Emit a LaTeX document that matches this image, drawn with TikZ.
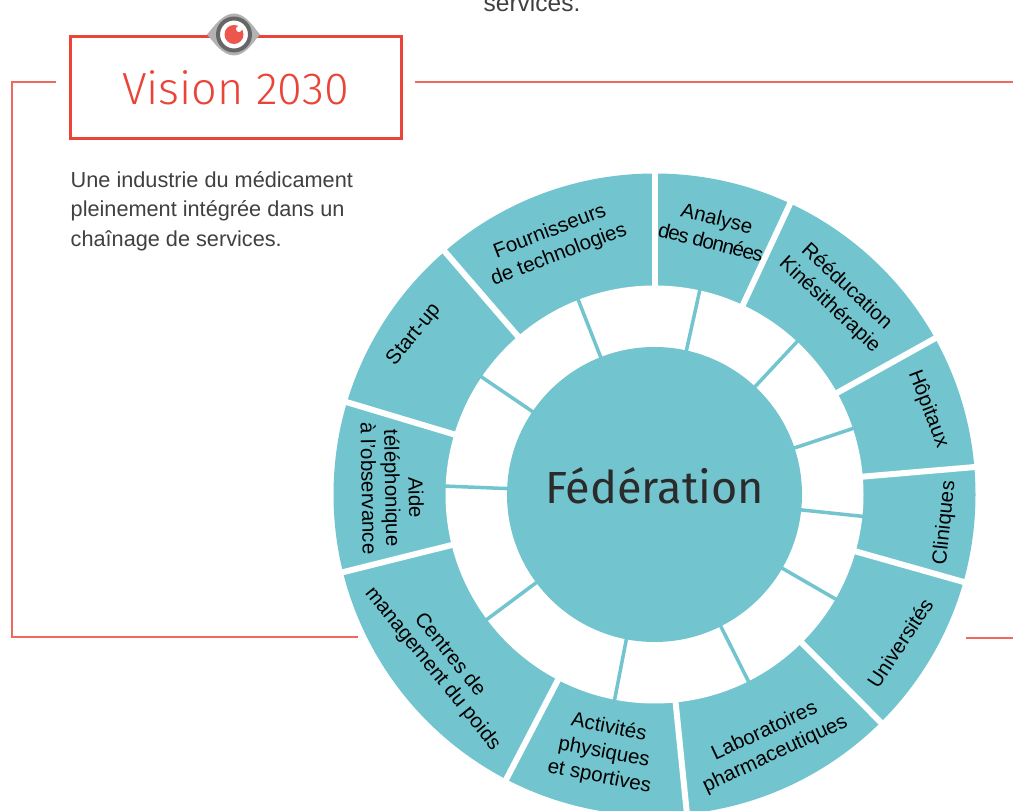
\documentclass[tikz,border=0pt]{standalone}
\usepackage{fontspec}
\usetikzlibrary{calc}
\setmainfont{Liberation Sans}
\newfontfamily\titlefont{Fira Sans Light}
\newfontfamily\hubfont{Fira Sans}
\definecolor{teal}{HTML}{72C5CE}
\definecolor{redline}{HTML}{EA4338}
\definecolor{inktext}{HTML}{2B2B2B}
\begin{document}
\begin{tikzpicture}[
	x=1pt,y=1pt,
	disc/.style={circle,inner sep=0pt,outer sep=0pt,minimum size=#1},
	gap/.style={line width=6pt,draw=white,line cap=rect},
	spoke/.style={line width=3.5pt,draw=teal,line cap=rect},
	rule/.style={line width=1.3pt,draw=redline!80!white},
	body/.style={anchor=base west,inner sep=0pt,text=inktext!90!white,font=\fontsize{21.7}{29}\selectfont},
	sector/.style={align=center,text=black,font=\fontsize{20.5}{25}\selectfont}
]
%\draw[help lines,step=100] (0,0) grid (1013,811);
	\clip (0,0) rectangle (1013,811);
	\useasboundingbox (0,0) rectangle (1013,811);

	% red rules
	\coordinate (ruleA) at (56,729);
	\coordinate (ruleB) at (12,729);
	\coordinate (ruleC) at (12,174);
	\coordinate (ruleD) at (358,174);
	\coordinate (ruleE) at (415,729);
	\coordinate (ruleF) at (1013,729);
	\coordinate (ruleG) at (966,173);
	\coordinate (ruleH) at (1013,173);
	\draw[rule] (ruleA) -- (ruleB) -- (ruleC) -- (ruleD);
	\draw[rule] (ruleE) -- (ruleF);
	\draw[rule] (ruleG) -- (ruleH);

	% title box and eye
	\node[draw=redline,line width=3pt,minimum width=331pt,minimum height=102pt,inner sep=0pt,text=redline,font=\titlefont\fontsize{45}{45}\selectfont] (vision) at (235.5,723) {Vision 2030};
	\fill[gray!60] (207,776.5) .. controls (213,783) and (222,797.5) .. (234,797.5) .. controls (246,797.5) and (254,783) .. (260,776.5) .. controls (254,770) and (246,755.5) .. (234,755.5) .. controls (222,755.5) and (213,770) .. (207,776.5) -- cycle;
	\draw[line width=4pt,draw=gray!80!black,fill=white] (234,776.5) circle [radius=16];
	\fill[redline!90!white] (234,776.5) circle [radius=9.5];
	\fill[white] (239,782) circle [radius=3];

	% texts
	\node[body,font=\fontsize{24.5}{29}\selectfont] (services) at (483.5,799) {services.};
	\node[body] (line1) at (70.5,623) {Une industrie du médicament};
	\node[body] (line2) at (70.5,594) {pleinement intégrée dans un};
	\node[body] (line3) at (70.5,564.5) {chaînage de services.};

	% wheel
	\node[disc=642pt,fill=teal] (outer) at (654.5,316.5) {};
	\node[disc=418pt,fill=white] (ring) at (654.5,316.5) {};
	\draw[gap] ($(ring)+(90:209)$) -- ($(outer)+(90:321)$);
	\draw[gap] ($(ring)+(65:209)$) -- ($(outer)+(65:321)$);
	\draw[gap] ($(ring)+(29.1:209)$) -- ($(outer)+(29.1:321)$);
	\draw[gap] ($(ring)+(4.9:209)$) -- ($(outer)+(4.9:321)$);
	\draw[gap] ($(ring)+(-15.8:209)$) -- ($(outer)+(-15.8:321)$);
	\draw[gap] ($(ring)+(-45.2:209)$) -- ($(outer)+(-45.2:321)$);
	\draw[gap] ($(ring)+(-84.2:209)$) -- ($(outer)+(-84.2:321)$);
	\draw[gap] ($(ring)+(-117.5:209)$) -- ($(outer)+(-117.5:321)$);
	\draw[gap] ($(ring)+(194:209)$) -- ($(outer)+(194:321)$);
	\draw[gap] ($(ring)+(163.3:209)$) -- ($(outer)+(163.3:321)$);
	\draw[gap] ($(ring)+(130.8:209)$) -- ($(outer)+(130.8:321)$);

	\node[disc=295pt,fill=teal] (federation) at (654.5,316.5) {};
	\node[text=inktext,font=\hubfont\fontsize{45}{45}\selectfont] (federationlabel) at (654.5,325) {Fédération};
	\draw[spoke] ($(federation)+(77.5:147)$) -- ($(ring)+(77.5:209)$);
	\draw[spoke] ($(federation)+(47:147)$) -- ($(ring)+(47:209)$);
	\draw[spoke] ($(federation)+(18.4:147)$) -- ($(ring)+(18.4:209)$);
	\draw[spoke] ($(federation)+(-6:147)$) -- ($(ring)+(-6:209)$);
	\draw[spoke] ($(federation)+(-30:147)$) -- ($(ring)+(-30:209)$);
	\draw[spoke] ($(federation)+(-63.3:147)$) -- ($(ring)+(-63.3:209)$);
	\draw[spoke] ($(federation)+(-101:147)$) -- ($(ring)+(-101:209)$);
	\draw[spoke] ($(federation)+(216.7:147)$) -- ($(ring)+(216.7:209)$);
	\draw[spoke] ($(federation)+(177.7:147)$) -- ($(ring)+(177.7:209)$);
	\draw[spoke] ($(federation)+(145.8:147)$) -- ($(ring)+(145.8:209)$);
	\draw[spoke] ($(federation)+(111.4:147)$) -- ($(ring)+(111.4:209)$);

	% sector labels
	\node[sector,rotate=21] (fournisseurs) at (554.5,567.5) {Fournisseurs\\de technologies};
	\node[sector,rotate=-14] (analyse) at (714,581) {Analyse\\{\addfontfeature{LetterSpace=-5.5}des données}};
	\node[sector,rotate=-43] (reeducation) at (838,515) {Rééducation\\Kinésithérapie};
	\node[sector,rotate=-69] (hopitaux) at (928,402) {Hôpitaux};
	\node[sector,rotate=84] (cliniques) at (945,288) {Cliniques};
	\node[sector,rotate=56.5] (universites) at (900,168) {Universités};
	\node[sector,rotate=25] (laboratoires) at (770,68) {Laboratoires\\pharmaceutiques};
	\node[sector,rotate=-11] (activites) at (604,58.5) {Activités\\physiques\\et sportives};
	\node[sector,rotate=-51] (centres) at (441,149) {Centres de\\[-3pt]management du poids};
	\node[sector,rotate=-89] (aide) at (392.5,323) {\hspace*{20pt}Aide\\[-1.5pt]téléphonique\\[-1.5pt]à l'observance};
	\node[sector,rotate=51] (startup) at (414,476) {Start-up};
\end{tikzpicture}
\end{document}
